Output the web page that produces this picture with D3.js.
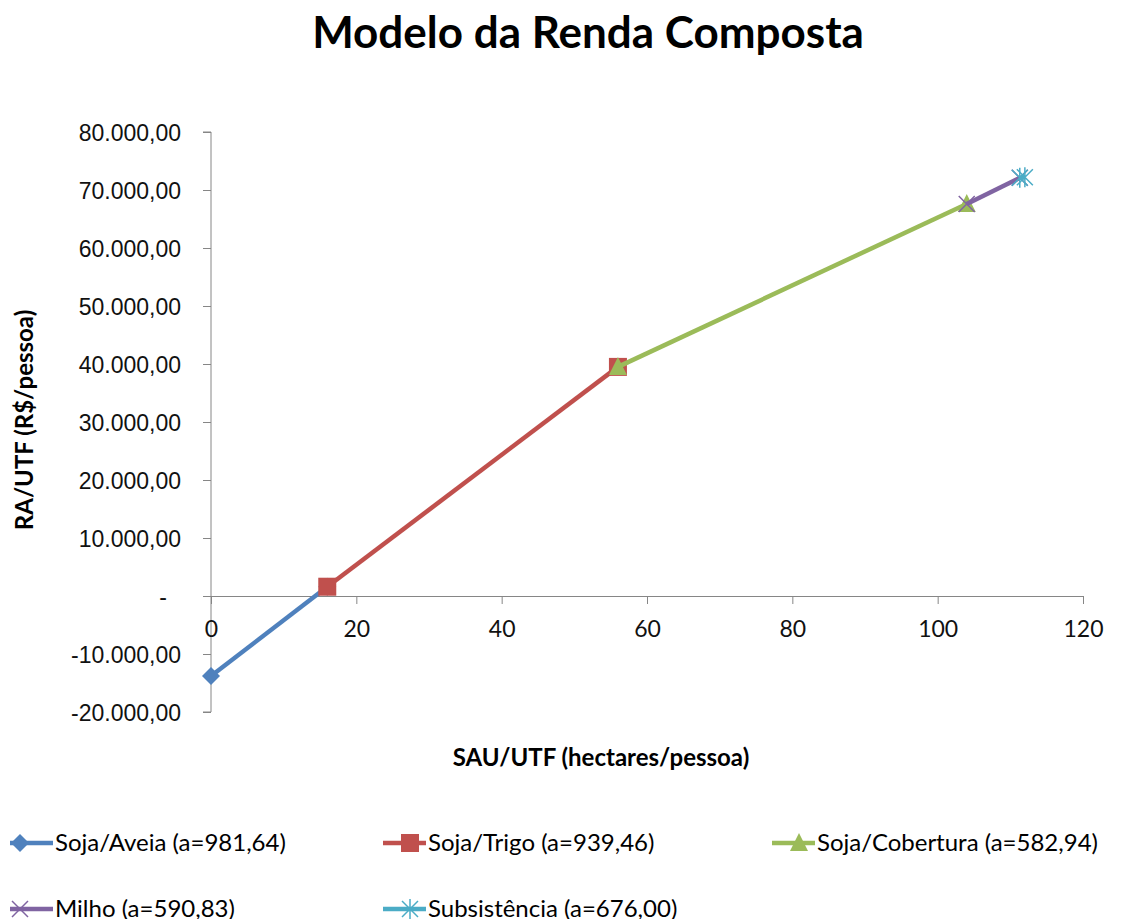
<!DOCTYPE html>
<html>
<head>
<meta charset="utf-8">
<script src="https://cdn.jsdelivr.net/npm/d3@7"></script>
<style>
body { margin: 0; background: #fff; }
text { font-family: Lato, "Open Sans", sans-serif; }
</style>
</head>
<body>
<svg id="chart" width="1127" height="919"></svg>
<script>
// series names, colours, marker shapes
var names = ["Soja/Aveia (a=981,64)", "Soja/Trigo (a=939,46)", "Soja/Cobertura (a=582,94)", "Milho (a=590,83)", "Subsistência (a=676,00)"];
var colors = ["#4F81BD", "#C0504D", "#9BBB59", "#8064A2", "#4BACC6"];
var shapes = ["diamond", "square", "triangle", "x", "star"];

// x values (SAU/UTF) and y values (RA/UTF) per series
var xs = [[0, 16], [16, 56], [56, 104], [104, 111.3], [111.3, 112]];
var ys = [[-13800, 1600], [1600, 39500], [39500, 67600], [67600, 72100], [72100, 72200]];

var xTicks = [0, 20, 40, 60, 80, 100, 120];
var yTicks = [-20000, -10000, 0, 10000, 20000, 30000, 40000, 50000, 60000, 70000, 80000];

var svg = d3.select("#chart");

var x = d3.scaleLinear().domain([0, 120]).range([211, 1083]);
var y = d3.scaleLinear().domain([-20000, 80000]).range([712, 132]);

var ptBR = d3.formatLocale({decimal: ",", thousands: ".", grouping: [3], currency: ["", ""], minus: "-"});
var fmtY = function(v) {
    if (v === 0) return "-";
    return ptBR.format(",.2f")(v);
};

svg.append("text")
    .attr("x", 588).attr("y", 48)
    .attr("text-anchor", "middle")
    .style("font-size", "44px").style("font-weight", "bold")
    .text("Modelo da Renda Composta");

// y axis
var yAxis = svg.append("g").attr("transform", "translate(211,0)")
    .call(d3.axisLeft(y).tickValues(yTicks).tickSize(8).tickFormat(fmtY));
yAxis.select(".domain").attr("stroke", "#868686").attr("d", "M-8,132H0V712H-8");
yAxis.selectAll(".tick line").attr("stroke", "#868686");
yAxis.selectAll(".tick text").attr("x", function(d) { return d === 0 ? -44 : -30; }).attr("dy", "0.35em")
    .style("font-size", "23px").attr("fill", "#111").style("font-family", "'Liberation Sans', Arial, sans-serif");

// x axis at y = 0
var xAxis = svg.append("g").attr("transform", "translate(0," + y(0) + ")")
    .call(d3.axisBottom(x).tickValues(xTicks).tickSize(8).tickSizeOuter(0));
xAxis.select(".domain").attr("stroke", "#868686");
xAxis.selectAll(".tick line").attr("stroke", "#868686");
xAxis.selectAll(".tick text").attr("y", 33).attr("dy", "0.35em")
    .style("font-size", "23px").attr("fill", "#111").style("font-family", "Lato, sans-serif");

svg.append("text")
    .attr("transform", "translate(33,420) rotate(-90)")
    .attr("text-anchor", "middle")
    .style("font-size", "24px").style("font-weight", "bold")
    .text("RA/UTF (R$/pessoa)");

svg.append("text")
    .attr("x", 601).attr("y", 766)
    .attr("text-anchor", "middle")
    .style("font-size", "24px").style("font-weight", "bold")
    .text("SAU/UTF (hectares/pessoa)");

function marker(g, shape, color, cx, cy) {
    if (shape === "diamond") {
        g.append("path").attr("d", "M0,-9L9,0L0,9L-9,0Z").attr("fill", color)
            .attr("transform", "translate(" + cx + "," + cy + ")");
    } else if (shape === "square") {
        g.append("rect").attr("x", cx - 9).attr("y", cy - 9).attr("width", 18).attr("height", 18).attr("fill", color);
    } else if (shape === "triangle") {
        g.append("path").attr("d", "M0,-10L9,8L-9,8Z").attr("fill", color)
            .attr("transform", "translate(" + cx + "," + cy + ")");
    } else if (shape === "x") {
        g.append("path").attr("d", "M-8,-8L8,8M-8,8L8,-8").attr("stroke", color).attr("stroke-width", 1.5)
            .attr("transform", "translate(" + cx + "," + cy + ")");
    } else {
        g.append("path").attr("d", "M-8,-8L8,8M-8,8L8,-8M0,-10V10").attr("stroke", color).attr("stroke-width", 1.5)
            .attr("transform", "translate(" + cx + "," + cy + ")");
    }
}

var line = d3.line().x(function(d) { return x(d[0]); }).y(function(d) { return y(d[1]); });

names.forEach(function(n, i) {
    var pts = xs[i].map(function(v, j) { return [v, ys[i][j]]; });
    var g = svg.append("g");
    g.append("path").datum(pts).attr("d", line)
        .attr("fill", "none").attr("stroke", colors[i]).attr("stroke-width", 4.5);
    pts.forEach(function(p) { marker(g, shapes[i], colors[i], x(p[0]), y(p[1])); });
});

// legend
var legPos = [[10, 843], [383, 843], [772, 843], [10, 909], [383, 909]];
names.forEach(function(n, i) {
    var g = svg.append("g");
    var lx = legPos[i][0], ly = legPos[i][1];
    g.append("line").attr("x1", lx).attr("x2", lx + 43).attr("y1", ly).attr("y2", ly)
        .attr("stroke", colors[i]).attr("stroke-width", 4.5);
    marker(g, shapes[i], colors[i], lx + (i === 0 || i === 3 ? 10 : 27), ly);
    g.append("text").attr("x", lx + 45).attr("y", ly).attr("dy", "0.35em")
        .style("font-size", "24px").text(n);
});
</script>
</body>
</html>
